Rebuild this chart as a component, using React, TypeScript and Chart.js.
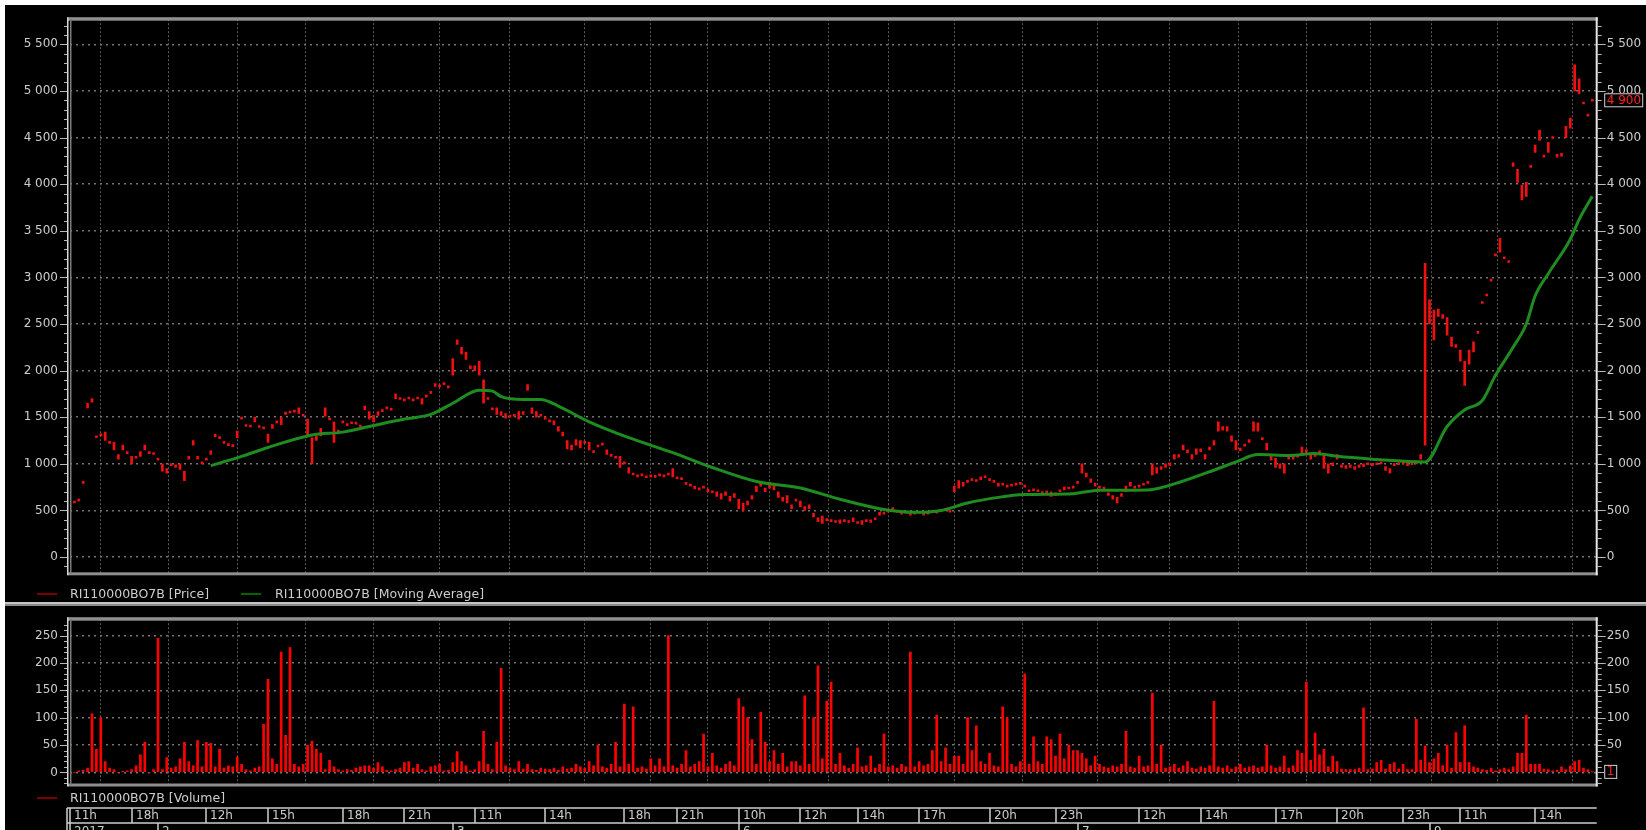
import React, { useEffect, useRef } from "react";
import { Chart, registerables } from "chart.js";
Chart.register(...registerables);

// ---- axis / tick data ----
const X_MAX = 347; // sessions shown
const WEEK_TICKS = [0, 14, 31, 45, 62, 76, 92, 108, 126, 138, 152, 166, 179, 193, 209, 224, 243, 257, 274, 288, 303, 316, 333];
const WEEK_LABELS = ["11h", "18h", "12h", "15h", "18h", "21h", "11h", "14h", "18h", "21h", "10h", "12h", "14h", "17h", "20h", "23h", "12h", "14h", "17h", "20h", "23h", "11h", "14h"];
const MONTH_TICKS = [0, 20, 87, 152, 229, 309];
const MONTH_LABELS = ["2017", "2", "3", "6", "7", "9"];

const SERIES_NAME = "RI110000BO7B";
const LAST_PRICE = 4900;
const LAST_VOLUME = 1;

// ---- price bars (low / high per session) ----
const PRICE_LOW = [
  530, 580, 600, 790, 1600, 1660, 1280, 1300, 1250, 1220,
  1150, 1050, 1150, 1110, 1000, 1060, 1080, 1150, 1110, 1100,
  1040, 920, 900, 980, 960, 940, 820, 1050, 1200, 1050,
  1000, 1040, 1100, 1290, 1270, 1220, 1195, 1185, 1280, 1480,
  1400, 1395, 1450, 1390, 1375, 1230, 1380, 1440, 1420, 1530,
  1545, 1555, 1540, 1510, 1300, 1000, 1250, 1300, 1510, 1470,
  1230, 1340, 1440, 1410, 1430, 1425, 1395, 1580, 1480, 1450,
  1520, 1560, 1590, 1575, 1700, 1690, 1675, 1695, 1675, 1695,
  1640, 1715, 1755, 1830, 1825, 1850, 1815, 1950, 2280, 2180,
  2120, 2020, 2000, 1950, 1650, 1690, 1580, 1530, 1520, 1490,
  1500, 1510, 1480, 1530, 1790, 1540, 1500, 1510, 1480, 1450,
  1420, 1350, 1300, 1160, 1150, 1200, 1170, 1220, 1150, 1120,
  1180, 1200, 1100, 1080, 1060, 960, 1000, 900, 880, 860,
  870, 850, 860, 855, 870, 860, 880, 860, 840, 830,
  780, 760, 730, 720, 740, 700, 690, 650, 620, 660,
  600, 640, 520, 500, 560, 620, 700, 760, 700, 740,
  720, 640, 600, 580, 520, 600, 540, 500, 520, 430,
  380, 360, 390, 380, 370, 360, 380, 370, 380, 360,
  350, 380, 370, 400, 450, 460, 480, 500, 480, 460,
  470, 450, 460, 470, 450, 460, 480, 470, 490, 500,
  480, 700, 740, 760, 800, 820, 810, 830, 850, 820,
  800, 760, 770, 750, 760, 770, 780, 750, 700, 710,
  700, 680, 690, 650, 660, 700, 720, 730, 740, 790,
  900, 860, 800, 760, 740, 730, 660, 620, 580, 650,
  700, 760, 740, 750, 770, 790, 880, 900, 940, 960,
  980, 1050, 1070, 1150, 1120, 1050, 1100, 1130, 1050, 1150,
  1200, 1350, 1360, 1350, 1240, 1150, 1140, 1190, 1230, 1350,
  1350, 1260, 1150, 1040, 960, 950, 900, 1050, 1050, 1070,
  1100, 1120, 1050, 1080, 1100, 950, 900, 980, 1050, 960,
  950, 960, 940, 960, 970, 990, 980, 990, 1000, 930,
  900, 980, 990, 1000, 980, 990, 1000, 1050, 1200, 2500,
  2330, 2580, 2560, 2380, 2260, 2250, 2100, 1840, 2070, 2200,
  2400, 2720, 2800, 2960, 3230, 3270, 3200, 3160, 4190, 4020,
  3830, 3870, 4180, 4340, 4470, 4290, 4340, 4490, 4290, 4300,
  4500, 4600, 5000, 4970, 4860, 4730, 4890,
];
const PRICE_HIGH = [
  560, 600, 615, 810, 1650, 1700, 1300, 1320, 1340, 1240,
  1230, 1100, 1200, 1130, 1080, 1080, 1130, 1200, 1130, 1120,
  1060, 1000, 950, 1000, 990, 1000, 920, 1080, 1250, 1080,
  1020, 1060, 1140, 1320, 1290, 1240, 1210, 1200, 1350, 1500,
  1420, 1410, 1500, 1410, 1395, 1320, 1420, 1460, 1500, 1555,
  1560, 1570, 1600, 1530, 1480, 1280, 1300, 1380, 1600, 1490,
  1450, 1360, 1460, 1430, 1450, 1440, 1410, 1620, 1560, 1520,
  1560, 1580, 1610, 1590, 1750, 1710, 1690, 1710, 1690, 1710,
  1700, 1730, 1770, 1860, 1840, 1865, 1830, 2130, 2330, 2250,
  2200, 2050, 2050, 2100, 1900, 1710, 1600, 1600, 1560, 1540,
  1520, 1530, 1560, 1560, 1850, 1600, 1560, 1530, 1500, 1470,
  1460, 1400, 1340, 1250, 1200, 1260, 1250, 1240, 1230, 1140,
  1200, 1220, 1150, 1100, 1080, 1080, 1020, 960, 900, 880,
  890, 870, 880, 870, 890, 875, 900, 950, 860, 850,
  800, 780, 760, 740, 760, 730, 710, 700, 680, 700,
  650, 680, 620, 580, 600, 660, 760, 800, 740, 800,
  760, 700, 640, 660, 560, 620, 600, 540, 560, 470,
  420, 440, 410, 400, 390, 400, 400, 390, 420, 380,
  390, 400, 400, 420, 480, 480, 500, 530, 500, 480,
  490, 470, 480, 490, 470, 480, 500, 490, 510, 520,
  500, 760, 820, 800, 820, 840, 830, 860, 870, 840,
  820, 790, 790, 770, 780, 790, 800, 770, 720, 730,
  720, 700, 710, 700, 690, 720, 750, 750, 760, 810,
  1000, 900, 840, 790, 760, 750, 690, 660, 640, 680,
  760, 800, 760, 770, 790, 810, 1000, 960, 970, 1000,
  1010, 1100, 1100, 1200, 1150, 1100, 1160, 1160, 1100, 1180,
  1250, 1450, 1400, 1400, 1300, 1250, 1170, 1210, 1260, 1450,
  1440, 1280, 1220, 1100, 1060, 1000, 1000, 1100, 1080, 1090,
  1180, 1150, 1110, 1100, 1140, 1100, 1000, 1010, 1100, 990,
  980, 990, 970, 990, 1000, 1010, 1000, 1010, 1020, 970,
  950, 1000, 1010, 1020, 1010, 1010, 1030, 1100, 3150, 2760,
  2650, 2660, 2600, 2570, 2360, 2280, 2220, 2100, 2220, 2310,
  2420, 2740, 2820, 2980, 3250, 3420, 3220, 3180, 4230, 4160,
  3990, 4020, 4200, 4420, 4580, 4310, 4450, 4510, 4320, 4330,
  4620, 4710, 5280, 5130, 4880, 4750, 4910,
];

// ---- moving average (session, value) ----
const MA_T = [32, 39, 45, 55, 62, 68, 76, 82, 87, 93, 96, 98, 103, 107, 111, 118, 127, 137, 146, 156, 166, 175, 185, 192, 198, 204, 211, 217, 228, 231, 234, 245, 252, 261, 265, 270, 277, 283, 288, 296, 308, 313, 317, 321, 324, 328, 331, 333, 336, 341, 343, 346];
const MA_VALUE = [980, 1080, 1175, 1310, 1340, 1400, 1480, 1530, 1650, 1790, 1780, 1720, 1690, 1690, 1620, 1450, 1280, 1120, 960, 810, 740, 620, 510, 480, 500, 580, 640, 670, 680, 700, 716, 720, 800, 950, 1020, 1100, 1090, 1110, 1080, 1050, 1020, 1400, 1580, 1680, 1950, 2250, 2500, 2800, 3040, 3410, 3620, 3870];

// ---- volume per session ----
const VOLUME = [
  0, 0, 3, 4, 8, 107, 42, 100, 20, 8,
  5, 0, 2, 3, 5, 12, 32, 55, 0, 5,
  245, 5, 27, 8, 10, 25, 55, 20, 12, 58,
  10, 55, 53, 10, 42, 8, 12, 10, 28, 15,
  5, 3, 8, 10, 88, 170, 25, 15, 220, 68,
  228, 15, 10, 15, 50, 57, 42, 35, 5, 22,
  10, 5, 3, 5, 4, 8, 10, 12, 12, 8,
  18, 10, 4, 3, 5, 8, 18, 20, 8, 15,
  5, 3, 10, 12, 15, 3, 4, 18, 38, 20,
  12, 3, 5, 20, 75, 15, 5, 55, 190, 12,
  8, 5, 20, 6, 15, 5, 4, 8, 6, 5,
  8, 4, 10, 6, 8, 15, 10, 8, 20, 12,
  50, 10, 8, 15, 55, 10, 125, 15, 120, 8,
  10, 6, 25, 12, 25, 10, 250, 12, 8, 15,
  40, 10, 15, 20, 70, 10, 35, 12, 8, 15,
  20, 12, 135, 120, 100, 60, 15, 110, 55, 20,
  40, 15, 35, 10, 20, 20, 12, 140, 15, 100,
  195, 25, 130, 165, 15, 35, 12, 8, 15, 45,
  10, 12, 30, 8, 15, 70, 10, 12, 8, 15,
  10, 220, 10, 20, 12, 15, 40, 105, 20, 45,
  15, 30, 30, 15, 100, 40, 85, 20, 15, 35,
  12, 10, 120, 100, 15, 10, 20, 180, 15, 65,
  20, 15, 65, 60, 30, 70, 25, 50, 40, 40,
  35, 25, 12, 30, 15, 10, 8, 12, 10, 15,
  75, 10, 8, 30, 10, 12, 145, 15, 50, 8,
  10, 15, 8, 12, 20, 8, 6, 10, 8, 12,
  130, 10, 8, 12, 6, 10, 15, 8, 10, 12,
  8, 10, 50, 12, 8, 10, 30, 8, 12, 40,
  35, 165, 22, 72, 32, 42, 10, 30, 20, 6,
  5, 5, 5, 8, 118, 5, 6, 18, 22, 6,
  15, 18, 6, 15, 5, 5, 97, 22, 48, 18,
  25, 35, 12, 50, 8, 73, 18, 85, 18, 10,
  8, 5, 4, 8, 3, 5, 8, 5, 10, 35,
  35, 105, 15, 15, 15, 6, 5, 3, 4, 10,
  5, 12, 20, 22, 8, 5, 1,
];

// ---- styling ----
const FONT = "'DejaVu Sans', 'Liberation Sans', sans-serif";
const TEXT = "#cdcdcd";
const LEFT_W = 70;
const RIGHT_W = 49.3;
const VOL_CANVAS_TOP = 600;

function fmt(v: number): string {
  if (Math.abs(v) >= 1000) {
    const th = Math.trunc(v / 1000);
    const r = Math.abs(v % 1000);
    return th + " " + String(r).padStart(3, "0");
  }
  return String(v);
}

function stepTicks(from: number, to: number, step: number) {
  const out: { value: number }[] = [];
  for (let v = from; v <= to; v += step) out.push({ value: v });
  return out;
}

function xScale() {
  return {
    type: "linear",
    min: 0,
    max: X_MAX,
    offset: false,
    afterBuildTicks: (s: any) => {
      s.ticks = WEEK_TICKS.map((v) => ({ value: v }));
    },
    afterFit: (s: any) => {
      s.height = 0;
    },
    ticks: { display: false, autoSkip: false },
    grid: { color: "#5a5a5a", lineWidth: 1, drawTicks: false },
    border: { display: false, dash: [2, 2] },
  };
}

function yScales(min: number, max: number, from: number, to: number, minor: number, major: number) {
  const common = {
    type: "linear",
    min,
    max,
    afterBuildTicks: (s: any) => {
      s.ticks = stepTicks(from, to, minor);
    },
    ticks: {
      autoSkip: false,
      color: TEXT,
      font: { family: FONT, size: 12 },
      callback: (v: any) => (Number(v) % major === 0 ? fmt(Number(v)) : ""),
    },
  };
  return {
    y: {
      ...common,
      position: "left",
      afterFit: (s: any) => {
        s.width = LEFT_W;
      },
      ticks: { ...common.ticks, padding: 12 },
      grid: {
        drawTicks: false,
        lineWidth: 1.6,
        color: (c: any) => (c.tick && Number(c.tick.value) % major === 0 ? "#747474" : "rgba(0,0,0,0)"),
      },
      border: { display: false, dash: [2, 4] },
    },
    y2: {
      ...common,
      position: "right",
      afterFit: (s: any) => {
        s.width = RIGHT_W;
      },
      ticks: { ...common.ticks, padding: 10 },
      grid: { drawTicks: false, drawOnChartArea: false },
      border: { display: false },
    },
  };
}

function framePlugin(id: string, major: number, boxValue: number, boxText: string, boxWidth: number) {
  return {
    id,
    afterDraw(chart: any) {
      const { ctx, chartArea: a } = chart;
      const ys = chart.scales.y;
      ctx.save();
      // tick marks
      ctx.strokeStyle = "#b8b8b8";
      ctx.lineWidth = 1;
      ctx.beginPath();
      for (const t of ys.ticks) {
        const y = Math.round(ys.getPixelForValue(t.value)) + 0.5;
        const len = Number(t.value) % major === 0 ? 8 : 4;
        ctx.moveTo(a.left - 2 - len, y);
        ctx.lineTo(a.left - 2, y);
        ctx.moveTo(a.right + 1, y);
        ctx.lineTo(a.right + 1 + len, y);
      }
      ctx.stroke();
      // frame
      ctx.fillStyle = "#8e8e8e";
      ctx.fillRect(a.left - 2, a.top - 2, a.right - a.left + 3, 3.5);
      ctx.fillRect(a.left - 2, a.bottom - 1.5, a.right - a.left + 3, 3);
      ctx.fillStyle = "#7a7a7a";
      ctx.fillRect(a.left, a.top, 1.5, a.bottom - a.top);
      ctx.fillStyle = "#d8d8d8";
      ctx.fillRect(a.left - 3, a.top - 2, 1.5, a.bottom - a.top + 3.5);
      ctx.fillStyle = "#e6e6e6";
      ctx.fillRect(a.right - 1, a.top - 2, 2, a.bottom - a.top + 3.5);
      // last value box
      const by = ys.getPixelForValue(boxValue);
      const bx = a.right + 7.5;
      ctx.fillStyle = "#000";
      ctx.fillRect(bx, by - 7, boxWidth, 14);
      ctx.strokeStyle = "#d0d0d0";
      ctx.lineWidth = 1;
      ctx.strokeRect(bx + 0.5, by - 6.5, boxWidth - 1, 13);
      ctx.fillStyle = "#ff2020";
      ctx.font = "12px " + FONT;
      ctx.textAlign = "left";
      ctx.textBaseline = "middle";
      ctx.fillText(boxText, bx + 2.5, by + 0.5);
      ctx.restore();
    },
  };
}

const dateStripPlugin = {
  id: "dateStrip",
  afterDraw(chart: any) {
    const { ctx, chartArea: a } = chart;
    const xs = chart.scales.x;
    // page rows 808 / 823, expressed in this canvas
    const top = 808 - VOL_CANVAS_TOP;
    const mid = 823 - VOL_CANVAS_TOP;
    const end = chart.height + 2;
    ctx.save();
    ctx.fillStyle = "#9a9a9a";
    ctx.fillRect(a.left - 3, top - 1, a.right - a.left + 3, 2);
    ctx.fillRect(a.left - 3, mid - 1, a.right - a.left + 3, 2);
    ctx.strokeStyle = "#cfcfcf";
    ctx.lineWidth = 1.5;
    ctx.font = "12px " + FONT;
    ctx.fillStyle = TEXT;
    ctx.textAlign = "left";
    ctx.textBaseline = "middle";
    WEEK_TICKS.forEach((v, i) => {
      const x = Math.round(xs.getPixelForValue(v));
      ctx.beginPath();
      ctx.moveTo(x, top);
      ctx.lineTo(x, mid);
      if (i === 0) {
        ctx.moveTo(x - 3, top);
        ctx.lineTo(x - 3, mid);
      }
      ctx.stroke();
      ctx.fillText(WEEK_LABELS[i], x + 4, (top + mid) / 2 + 0.5);
    });
    ctx.textBaseline = "top";
    MONTH_TICKS.forEach((v, i) => {
      const x = Math.round(xs.getPixelForValue(v));
      ctx.beginPath();
      ctx.moveTo(x, mid);
      ctx.lineTo(x, end);
      if (i === 0) {
        ctx.moveTo(x - 3, mid);
        ctx.lineTo(x - 3, end);
      }
      ctx.stroke();
      ctx.fillText(MONTH_LABELS[i], x + 4, mid + 2.5);
    });
    ctx.restore();
  },
};

const sessions = PRICE_LOW.map((_, i) => i);

export default function App() {
  const priceRef = useRef<HTMLCanvasElement>(null);
  const volRef = useRef<HTMLCanvasElement>(null);

  useEffect(() => {
    const priceChart = new Chart(priceRef.current as HTMLCanvasElement, {
      type: "bar",
      data: {
        datasets: [
          {
            type: "line",
            data: MA_T.map((t, i) => ({ x: t, y: MA_VALUE[i] })),
            borderColor: "#1f8c1f",
            borderWidth: 3,
            pointRadius: 0,
            cubicInterpolationMode: "monotone",
            yAxisID: "y",
            order: 0,
          } as any,
          {
            type: "bar",
            data: sessions.map((i) => ({ x: i, y: [PRICE_LOW[i], PRICE_HIGH[i]] })),
            backgroundColor: "#f01010",
            barThickness: 2,
            minBarLength: 2,
            yAxisID: "y",
            order: 1,
          } as any,
        ],
      },
      options: {
        responsive: false,
        animation: false,
        maintainAspectRatio: false,
        layout: { padding: { top: 10, bottom: 10, left: 0, right: 0 } },
        plugins: { legend: { display: false }, tooltip: { enabled: false } },
        scales: {
          x: xScale(),
          ...yScales(-180, 5770, -100, 5700, 100, 500),
        } as any,
      },
      plugins: [framePlugin("framePrice", 500, LAST_PRICE, fmt(LAST_PRICE), 39)],
    });

    const volChart = new Chart(volRef.current as HTMLCanvasElement, {
      type: "bar",
      data: {
        datasets: [
          {
            data: sessions.map((i) => ({ x: i, y: VOLUME[i] })),
            backgroundColor: "#ff0000",
            barThickness: 2,
            yAxisID: "y",
          } as any,
        ],
      },
      options: {
        responsive: false,
        animation: false,
        maintainAspectRatio: false,
        layout: { padding: { top: 12, bottom: 45, left: 0, right: 0 } },
        plugins: { legend: { display: false }, tooltip: { enabled: false } },
        scales: {
          x: xScale(),
          ...yScales(-23, 280, -20, 270, 10, 50),
        } as any,
      },
      plugins: [framePlugin("frameVol", 50, LAST_VOLUME, String(LAST_VOLUME), 13), dateStripPlugin],
    });

    return () => {
      priceChart.destroy();
      volChart.destroy();
    };
  }, []);

  const legendText: React.CSSProperties = {
    position: "absolute",
    font: "12.5px " + FONT,
    color: TEXT,
    lineHeight: "16px",
    whiteSpace: "nowrap",
  };
  const sample = (left: number, top: number, color: string): React.CSSProperties => ({
    position: "absolute",
    left,
    top,
    width: 20,
    height: 2,
    background: color,
  });

  return (
    <div style={{ position: "fixed", left: 0, top: 0, width: 1646, height: 830, background: "#fff", overflow: "hidden" }}>
      <div style={{ position: "absolute", left: 5, top: 5, width: 1641, height: 825, background: "#000" }} />
      <canvas ref={priceRef} width={1646} height={593} style={{ position: "absolute", left: 0, top: 0, width: 1646, height: 593 }} />
      <div style={sample(37, 593, "#7a0000")} />
      <div style={{ ...legendText, left: 70, top: 586 }}>{SERIES_NAME} [Price]</div>
      <div style={sample(241, 593, "#006400")} />
      <div style={{ ...legendText, left: 275, top: 586 }}>{SERIES_NAME} [Moving Average]</div>
      <div style={{ position: "absolute", left: 5, top: 602, width: 1641, height: 2, background: "#c4c4c4" }} />
      <div style={{ position: "absolute", left: 5, top: 604, width: 1641, height: 2, background: "#8a8a8a" }} />
      <canvas ref={volRef} width={1646} height={230} style={{ position: "absolute", left: 0, top: VOL_CANVAS_TOP, width: 1646, height: 230 }} />
      <div style={sample(37, 797, "#7a0000")} />
      <div style={{ ...legendText, left: 70, top: 790 }}>{SERIES_NAME} [Volume]</div>
    </div>
  );
}
